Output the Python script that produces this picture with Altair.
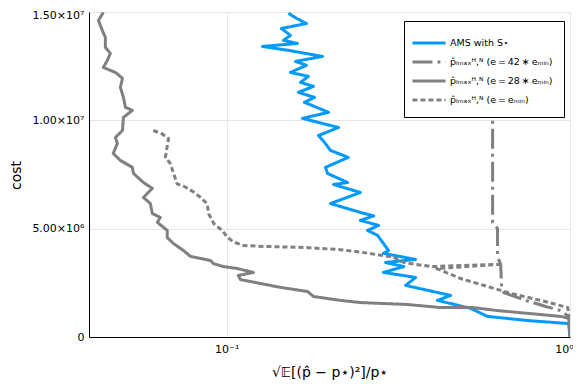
import altair as alt
import pandas as pd

T = "\u2009"
SERIES = [
    "AMS with S⋆",
    f"p̂ₗₘₐₓᴴ,ᴺ (e{T}={T}42{T}∗{T}eₘᵢₙ)",
    f"p̂ₗₘₐₓᴴ,ᴺ (e{T}={T}28{T}∗{T}eₘᵢₙ)",
    f"p̂ₗₘₐₓᴴ,ᴺ (e{T}={T}eₘᵢₙ)",
]
COLORS = ["#009AFA", "#808080", "#808080", "#808080"]
DASHES = [[1, 0], [20, 5, 3, 5], [1, 0], [5, 3]]

# AMS with S*
ams_err = [0.1513, 0.1596, 0.1707, 0.1443, 0.1533, 0.1463, 0.1607, 0.1271, 0.1513, 0.1901,
           0.1586, 0.1707, 0.1533, 0.1730, 0.1640, 0.1790, 0.1618, 0.1802, 0.1684, 0.1979,
           0.1662, 0.2117, 0.1851, 0.1927, 0.2006, 0.2260, 0.1940, 0.1966, 0.2250, 0.2047,
           0.2450, 0.2006, 0.2450, 0.2680, 0.2450, 0.2770, 0.2570, 0.2750, 0.2860, 0.2960,
           0.2860, 0.3550, 0.2900, 0.3280, 0.2860, 0.3550, 0.3320, 0.4490, 0.4110, 0.5140,
           0.5750, 0.7530, 0.9910, 1.0]
ams_cost = [14.94e6, 14.71e6, 14.47e6, 14.24e6, 13.92e6, 13.69e6, 13.55e6, 13.41e6, 13.23e6, 12.95e6,
            12.72e6, 12.54e6, 12.21e6, 12.03e6, 11.75e6, 11.57e6, 11.29e6, 11.06e6, 10.83e6, 10.37e6,
            10.09e6, 9.67e6, 9.30e6, 8.98e6, 8.61e6, 8.29e6, 7.83e6, 7.55e6, 7.13e6, 7.04e6,
            6.67e6, 6.16e6, 5.75e6, 5.59e6, 5.38e6, 5.15e6, 4.92e6, 4.69e6, 4.32e6, 3.99e6,
            3.86e6, 3.58e6, 3.44e6, 3.25e6, 2.98e6, 2.75e6, 2.38e6, 1.92e6, 1.69e6, 1.32e6,
            0.95e6, 0.76e6, 0.62e6, 0.0]

# e = 42 * e_min (dash-dot)
e42_err = [0.595, 0.595, 0.615, 0.615, 0.628, 0.632, 0.641, 0.743, 0.850, 0.939, 0.991, 1.0]
e42_cost = [11.13e6, 5.29e6, 5.01e6, 3.72e6, 3.35e6, 2.38e6, 2.05e6, 1.69e6, 1.41e6, 1.22e6, 0.95e6, 0.0]

# e = 28 * e_min (solid)
e28_err = [1.0, 1.0, 0.939, 0.615, 0.520, 0.420, 0.336, 0.245, 0.2145, 0.1790,
           0.1719, 0.1434, 0.1254, 0.1096, 0.1081, 0.1196, 0.1074, 0.0978, 0.0914, 0.0897,
           0.0784, 0.0748, 0.0699, 0.0671, 0.0671, 0.0628, 0.0640, 0.0607, 0.0599, 0.0572,
           0.0607, 0.0572, 0.0535, 0.0531, 0.0490, 0.0467, 0.0480, 0.0474, 0.0497, 0.0500,
           0.0531, 0.0507, 0.0500, 0.0490, 0.0497, 0.0474, 0.0437, 0.0449, 0.0458, 0.0443,
           0.0443, 0.0434, 0.0423, 0.0437]
e28_cost = [0.0, 0.85e6, 0.95e6, 1.22e6, 1.36e6, 1.36e6, 1.50e6, 1.59e6, 1.69e6, 1.87e6,
            2.10e6, 2.29e6, 2.47e6, 2.65e6, 2.84e6, 2.98e6, 3.16e6, 3.25e6, 3.39e6, 3.53e6,
            3.72e6, 3.99e6, 4.32e6, 4.59e6, 4.92e6, 5.29e6, 5.52e6, 5.70e6, 6.16e6, 6.44e6,
            6.86e6, 7.13e6, 7.55e6, 7.83e6, 8.15e6, 8.47e6, 8.93e6, 9.21e6, 9.53e6, 10.13e6,
            10.46e6, 10.60e6, 11.06e6, 11.52e6, 11.94e6, 12.21e6, 12.44e6, 12.77e6, 13.09e6, 13.37e6,
            13.83e6, 14.15e6, 14.61e6, 14.98e6]

# e = e_min (dotted)
emin_err = [0.0611, 0.0648, 0.0677, 0.0670, 0.0663, 0.0685, 0.0701, 0.0717, 0.0758, 0.0801,
            0.0838, 0.0877, 0.0886, 0.0917, 0.0970, 0.1003, 0.1048, 0.1121, 0.1282, 0.1533,
            0.1696, 0.2145, 0.2450, 0.3060, 0.3280, 0.3930, 0.6200, 0.4090, 0.4800, 0.6280,
            0.6720, 0.8220, 0.9850, 1.0, 1.0]
emin_cost = [9.53e6, 9.38e6, 9.15e6, 8.76e6, 8.30e6, 8.00e6, 7.53e6, 7.07e6, 6.92e6, 6.69e6,
             6.45e6, 6.15e6, 5.69e6, 5.23e6, 4.92e6, 4.61e6, 4.38e6, 4.22e6, 4.18e6, 4.15e6,
             4.13e6, 4.03e6, 3.92e6, 3.68e6, 3.44e6, 3.25e6, 3.35e6, 3.16e6, 2.70e6, 2.15e6,
             2.01e6, 1.69e6, 1.36e6, 0.76e6, 0.0]

rows = []
for name, xs, ys in zip(SERIES, [ams_err, e42_err, e28_err, emin_err],
                        [ams_cost, e42_cost, e28_cost, emin_cost]):
    for i, (xv, yv) in enumerate(zip(xs, ys)):
        rows.append({"series": name, "err": xv, "cost": yv, "i": i})
df = pd.DataFrame(rows)

legend = alt.Legend(
    title=None, orient="none", legendX=315, legendY=9,
    fillColor="white", strokeColor="black", padding=11,
    labelFontSize=9.5, labelFont="DejaVu Sans", labelColor="black", labelLimit=300,
    symbolStrokeWidth=3, symbolSize=340, symbolType="M-1.8,0H1.8",
    symbolOffset=3, rowPadding=2, labelOffset=10, cornerRadius=0,
)

chart = alt.Chart(df).mark_line(strokeWidth=3, clip=True, strokeJoin="round").encode(
    x=alt.X("err:Q",
            scale=alt.Scale(type="log", domain=[0.0397, 1.0], nice=False),
            axis=alt.Axis(values=[0.1, 1.0],
                          labelExpr="datum.value > 0.5 ? '10⁰' : '10⁻¹'",
                          labelOffset={"condition": {"test": "datum.value > 0.5", "value": -6}, "value": 0},
                          title="√𝔼[(p̂ − p⋆)²]/p⋆",
                          titleFontSize=14, titlePadding=11, labelPadding=6,
                          labelFlush=False)),
    y=alt.Y("cost:Q",
            scale=alt.Scale(domain=[0, 1.5e7], nice=False),
            axis=alt.Axis(values=[0, 5e6, 1e7, 1.5e7],
                          labelExpr="datum.value == 0 ? '0' : datum.value == 5000000 ? '5.00×10⁶' : datum.value == 10000000 ? '1.00×10⁷' : '1.50×10⁷'",
                          labelOffset={"condition": {"test": "datum.value > 14000000", "value": 3}, "value": 0},
                          title="cost", titleFontSize=14, titleX=-73, titleY=163,
                          titleBaseline="middle", labelPadding=5, labelFlush=False)),
    color=alt.Color("series:N", scale=alt.Scale(domain=SERIES, range=COLORS), legend=legend),
    strokeDash=alt.StrokeDash("series:N", scale=alt.Scale(domain=SERIES, range=DASHES), legend=legend),
    order=alt.Order("i:Q"),
).properties(
    width=481, height=325,
    autosize=alt.AutoSizeParams(type="none"),
    padding={"left": 81, "top": 4, "right": 3, "bottom": 43},
).configure_axis(
    domainColor="black", labelColor="black", titleColor="black",
    labelFont="DejaVu Sans", titleFont="DejaVu Sans", titleFontWeight="normal",
    labelFontSize=11, ticks=False, gridColor="#e6e6e6", gridWidth=1,
).configure_view(stroke=None)

chart.save("out.html", embed_options={"renderer": "svg", "actions": False})
